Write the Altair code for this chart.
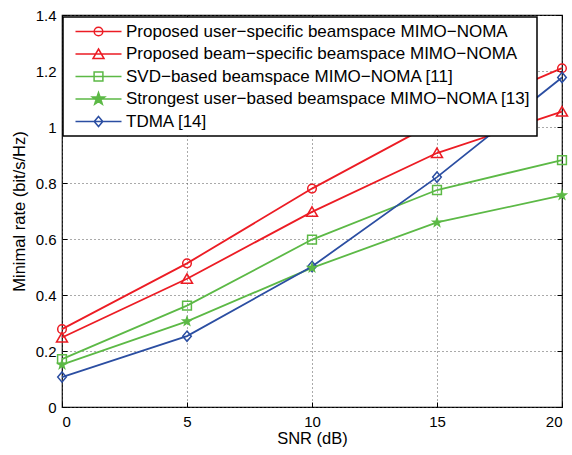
import math
import altair as alt
import pandas as pd

# ---------------- data ----------------
snr = [0, 5, 10, 15, 20]
series_names = [
    "Proposed user−specific beamspace MIMO−NOMA",
    "Proposed beam−specific beamspace MIMO−NOMA",
    "SVD−based beamspace MIMO−NOMA [11]",
    "Strongest user−based beamspace MIMO−NOMA [13]",
    "TDMA [14]",
]
user_specific = [0.278, 0.513, 0.780, 1.020, 1.210]
beam_specific = [0.248, 0.458, 0.697, 0.907, 1.055]
svd_based = [0.171, 0.362, 0.598, 0.775, 0.882]
strongest_user = [0.151, 0.306, 0.497, 0.659, 0.756]
tdma = [0.107, 0.253, 0.502, 0.821, 1.177]
y_ticks = [0, 0.2, 0.4, 0.6, 0.8, 1.0, 1.2, 1.4]

all_series = [user_specific, beam_specific, svd_based, strongest_user, tdma]
rows = []
for name, vals in zip(series_names, all_series):
    for x, v in zip(snr, vals):
        rows.append({"snr": x, "rate": v, "series": name})
df = pd.DataFrame(rows)

# ---------------- styles ----------------
RED, GREEN, BLUE = "#ec1c24", "#5cb946", "#2b4ea2"
colors = [RED, RED, GREEN, GREEN, BLUE]
legend_fills = ["transparent", "transparent", "transparent", GREEN, "transparent"]
FONT = "Liberation Sans"
STAR = series_names[3]


def circle(r):
    return f"M{r},0A{r},{r},0,1,1,{-r},0A{r},{r},0,1,1,{r},0Z"


def star(R, ri):
    pts = []
    for k in range(10):
        ang = -math.pi / 2 + k * math.pi / 5
        rad = R if k % 2 == 0 else ri
        pts.append(f"{rad * math.cos(ang):.3f},{rad * math.sin(ang):.3f}")
    return "M" + "L".join(pts) + "Z"


markers = [
    circle(0.86),
    "M0,-1.0L1.1,0.9L-1.1,0.9Z",
    "M-0.88,-0.88H0.88V0.88H-0.88Z",
    star(1.3, 0.52),
    "M0,-1.02L0.86,0L0,1.02L-0.86,0Z",
]
legend_markers = ["M-4.6,0H4.6" + m for m in markers]

xscale = alt.Scale(domain=[0, 20], nice=False, zero=False)
yscale = alt.Scale(domain=[0, 1.4], nice=False)
color_scale = alt.Scale(domain=series_names, range=colors)

x_bottom = alt.X(
    "snr:Q", scale=xscale,
    axis=alt.Axis(orient="bottom", values=snr, title="SNR (dB)", grid=True,
                  offset=-5, labelPadding=7, titlePadding=1, format="~g"),
)
y_left = alt.Y(
    "rate:Q", scale=yscale,
    axis=alt.Axis(orient="left", values=y_ticks, title="Minimal rate (bit/s/Hz)",
                  grid=True, offset=-5, labelPadding=6, titlePadding=8, format="~g"),
)
x_top = alt.X(
    "snr:Q", scale=xscale,
    axis=alt.Axis(orient="top", values=snr, title=None, grid=False, labels=False, offset=-5),
)
y_right = alt.Y(
    "rate:Q", scale=yscale,
    axis=alt.Axis(orient="right", values=y_ticks, title=None, grid=False, labels=False, offset=-5),
)

base = alt.Chart(df)

lines = base.mark_line(strokeWidth=1.8).encode(
    x=x_bottom, y=y_left,
    color=alt.Color("series:N", scale=color_scale, legend=None),
    detail="series:N",
)
shape_scale = alt.Scale(domain=series_names, range=markers)
hollow = base.transform_filter(alt.datum.series != STAR).mark_point(
    filled=False, size=100, strokeWidth=1.5, opacity=1
).encode(
    x=x_bottom, y=y_left,
    color=alt.Color("series:N", scale=color_scale, legend=None),
    shape=alt.Shape("series:N", scale=shape_scale, legend=None),
)
filled = base.transform_filter(alt.datum.series == STAR).mark_point(
    filled=True, size=100, strokeWidth=1, opacity=1
).encode(
    x=x_bottom, y=y_left,
    color=alt.Color("series:N", scale=color_scale, legend=None),
    shape=alt.Shape("series:N", scale=shape_scale, legend=None),
)

legend_obj = alt.Legend(
    title=None, orient="none", legendX=1, legendY=2, padding=6,
    fillColor="white", strokeColor="black",
    labelFont=FONT, labelFontSize=17, labelColor="black", labelLimit=0,
    symbolSize=100, symbolStrokeWidth=1.5, symbolOpacity=1,
    symbolOffset=21, labelOffset=19, rowPadding=4.5,
)
legend_layer = base.mark_point(opacity=0).encode(
    x=x_top, y=y_right,
    stroke=alt.Stroke("series:N", scale=alt.Scale(domain=series_names, range=colors), legend=legend_obj),
    fill=alt.Fill("series:N", scale=alt.Scale(domain=series_names, range=legend_fills), legend=legend_obj),
    shape=alt.Shape("series:N", scale=alt.Scale(domain=series_names, range=legend_markers), legend=legend_obj),
)

chart = (
    alt.layer(alt.layer(lines, hollow, filled), legend_layer)
    .resolve_scale(color="independent", shape="independent", fill="independent", stroke="independent")
    .resolve_axis(x="independent", y="independent")
    .properties(
        width=500, height=392,
        autosize=alt.AutoSizeParams(type="none"),
        padding={"left": 62, "top": 15, "right": 10, "bottom": 48},
        background="white",
    )
    .configure_view(stroke="black", strokeWidth=1.2)
    .configure_legend(strokeWidth=1.5)
    .configure_axis(
        labelFont=FONT, labelFontSize=15, labelColor="black",
        titleFont=FONT, titleFontSize=16.5, titleFontWeight="normal", titleColor="black",
        gridColor="#555555", gridDash=[1, 3], gridOpacity=1, gridWidth=1,
        tickColor="black", tickSize=5, tickWidth=1, domain=False,
    )
)

chart.save("out.html", embed_options={"renderer": "svg", "actions": False})
